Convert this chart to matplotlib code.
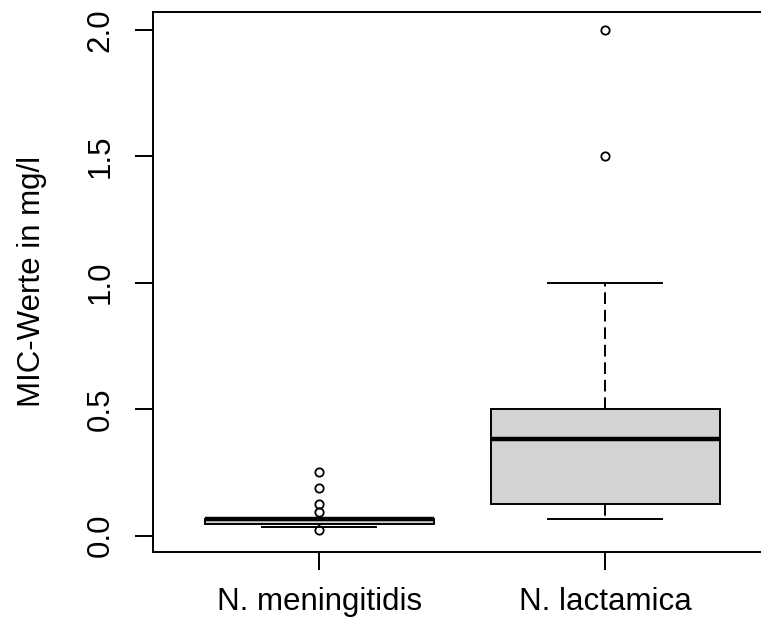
import matplotlib.pyplot as plt

plt.rcParams['font.family'] = ['Liberation Sans', 'DejaVu Sans']

# MIC values (mg/l), summary
groups = ["N. meningitidis", "N. lactamica"]
q1 = [0.047, 0.125]
med = [0.064, 0.38]
q3 = [0.064, 0.5]
whislo = [0.032, 0.064]
whishi = [0.064, 1.0]
fliers = [[0.023, 0.094, 0.125, 0.19, 0.25], [1.5, 2.0]]

stats = []
for i in range(len(groups)):
    stats.append(dict(label=groups[i], q1=q1[i], med=med[i], q3=q3[i],
                      whislo=whislo[i], whishi=whishi[i], fliers=fliers[i]))

fig = plt.figure(figsize=(7.61, 6.35), dpi=100)
W, H = 761, 635
left, right, top, bottom = 153.3, 771, 11.7, 552
ax = fig.add_axes([left / W, 1 - bottom / H, (right - left) / W, (bottom - top) / H])

lw = 1.4
ax.bxp(stats, positions=[1, 2], widths=0.8, patch_artist=True, showfliers=True,
       boxprops=dict(facecolor='#D3D3D3', edgecolor='black', linewidth=lw),
       medianprops=dict(color='black', linewidth=3.2, solid_capstyle='butt'),
       whiskerprops=dict(color='black', linewidth=lw, linestyle=(0, (6, 3))),
       capprops=dict(color='black', linewidth=lw),
       capwidths=0.4,
       flierprops=dict(marker='o', markersize=6, markerfacecolor='none',
                       markeredgecolor='black', markeredgewidth=1.3))

ax.set_xlim(0.42, 2.58)
ax.set_ylim(-0.065, 2.072)
ax.set_yticks([0.0, 0.5, 1.0, 1.5, 2.0])
ax.set_yticklabels(["0.0", "0.5", "1.0", "1.5", "2.0"], rotation=90, va='center')
ax.set_xticks([1, 2])
ax.set_xticklabels(groups)

for s in ax.spines.values():
    s.set_linewidth(lw)
ax.tick_params(axis='both', length=13, width=lw, labelsize=22.5, pad=14)
ax.tick_params(axis='x', pad=12)
ax.set_ylabel("MIC-Werte in mg/l", fontsize=22.5, labelpad=28)

fig.savefig("out.png", dpi=100)
